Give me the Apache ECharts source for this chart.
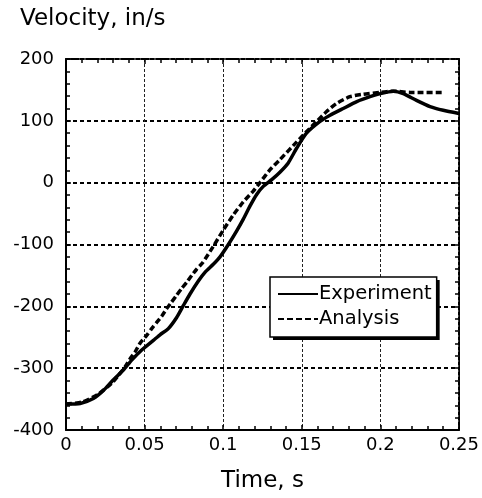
<!DOCTYPE html>
<html>
<head>
<meta charset="utf-8">
<script src="https://cdn.jsdelivr.net/npm/echarts@6/dist/echarts.min.js"></script>
<style>
  html, body { margin: 0; padding: 0; background: #fff; }
  #chart { width: 482px; height: 498px; }
</style>
</head>
<body>
<div id="chart"></div>
<script>
// measured experiment curve
const expTime = [0, 0.009, 0.0174, 0.0238, 0.030, 0.0365, 0.0418, 0.048, 0.0556, 0.0598, 0.0651,
  0.0704, 0.0746, 0.0789, 0.0842, 0.0884, 0.0937, 0.098, 0.1033, 0.1086, 0.1128, 0.117, 0.1213,
  0.1255, 0.1309, 0.1361, 0.1414, 0.1468, 0.153, 0.1616, 0.168, 0.1764, 0.185, 0.1934, 0.2,
  0.2082, 0.2146, 0.223, 0.2316, 0.24, 0.25];
const expVel = [-358, -357, -349, -336, -319, -303, -287, -271, -255, -246, -236,
  -218, -199, -180, -159, -145, -132, -120, -100, -78, -59, -38, -19,
  -6, 5, 17, 32, 56, 80, 99, 109, 120, 131, 139, 144,
  148, 144, 133, 123, 117, 112];

// analysis curve
const anaTime = [0, 0.01, 0.02, 0.03, 0.0375, 0.0407, 0.0439, 0.047, 0.0513, 0.0545, 0.0577,
  0.0609, 0.064, 0.0672, 0.0704, 0.0736, 0.0768, 0.08, 0.0831, 0.0868, 0.0937, 0.1, 0.1065,
  0.1128, 0.119, 0.1234, 0.1298, 0.136, 0.1468, 0.154, 0.1595, 0.1658, 0.172, 0.1806, 0.189,
  0.2, 0.208, 0.219, 0.239];
const anaVel = [-358, -355, -343, -322, -298, -285, -274, -260, -247, -236, -226,
  -216, -204, -193, -182, -171, -161, -150, -140, -130, -103, -77, -52,
  -31, -14, 0, 21, 37, 66, 85, 99, 115, 128, 139, 143,
  146, 148, 146, 146];

const seriesNames = ['Experiment', 'Analysis'];

const font = 'DejaVu Sans, sans-serif';
const chart = echarts.init(document.getElementById('chart'));

const tickFmt = v => String(Math.round(v * 100) / 100);

const xBase = { type: 'value', min: 0, max: 0.25, interval: 0.05 };
const yBase = { type: 'value', min: -400, max: 200, interval: 100 };
const tickStyle = { color: '#000', width: 1.5 };

// shared legend layout; the first copy is an all-black box offset by 3px that acts as drop shadow
const legendBase = {
  data: seriesNames,
  orient: 'vertical',
  padding: [7, 5, 8, 7],
  itemWidth: 40, itemHeight: 14, itemGap: 5,
  borderRadius: 0,
  itemStyle: { opacity: 0 },
  selectedMode: false
};

chart.setOption({
  animation: false,
  title: {
    text: 'Velocity, in/s',
    left: 15, top: 3,
    textStyle: { fontFamily: font, fontSize: 23, fontWeight: 'normal', color: '#000' }
  },
  grid: { left: 66, right: 23, top: 59, bottom: 66 },
  legend: [
    Object.assign({}, legendBase, {
      left: 273, top: 280, z: 5,
      backgroundColor: '#000', borderWidth: 0,
      lineStyle: { width: 2, color: '#000' },
      textStyle: { fontFamily: font, fontSize: 19.5, color: '#000', padding: [0, 0, 0, -4] }
    }),
    Object.assign({}, legendBase, {
      left: 270, top: 277, z: 6,
      backgroundColor: '#fff', borderColor: '#000', borderWidth: 1.5,
      lineStyle: { width: 2 },
      textStyle: { fontFamily: font, fontSize: 19.5, color: '#000', padding: [0, 0, 0, -4] }
    })
  ],
  xAxis: [
    Object.assign({}, xBase, {
      position: 'bottom',
      name: 'Time, s', nameLocation: 'middle', nameGap: 40,
      nameTextStyle: { fontFamily: font, fontSize: 23, color: '#000' },
      axisLine: { onZero: false, lineStyle: { color: '#000', width: 2 } },
      axisTick: { inside: true, length: 5, lineStyle: tickStyle },
      minorTick: { show: true, splitNumber: 5, length: 4, lineStyle: tickStyle },
      axisLabel: { fontFamily: font, fontSize: 18, color: '#000', margin: 6, formatter: tickFmt },
      splitLine: { show: true, lineStyle: { color: '#222', width: 1, type: [3, 2] } }
    }),
    Object.assign({}, xBase, {
      position: 'top',
      axisLine: { onZero: false, lineStyle: { color: '#000', width: 2, type: [3, 2] } },
      axisTick: { inside: true, length: 5, lineStyle: tickStyle },
      minorTick: { show: true, splitNumber: 5, length: 4, lineStyle: tickStyle },
      axisLabel: { show: false },
      splitLine: { show: false }
    })
  ],
  yAxis: [
    Object.assign({}, yBase, {
      position: 'left',
      axisLine: { show: true, onZero: false, lineStyle: { color: '#000', width: 2 } },
      axisTick: { show: true, inside: true, length: 5, lineStyle: tickStyle },
      minorTick: { show: true, splitNumber: 5, length: 4, lineStyle: tickStyle },
      axisLabel: { fontFamily: font, fontSize: 18, color: '#000', margin: 12, padding: [0, 0, 6, 0] },
      splitLine: { show: true, lineStyle: { color: '#000', width: 2, type: [4, 3] } }
    }),
    Object.assign({}, yBase, {
      position: 'right',
      axisLine: { show: true, onZero: false, lineStyle: { color: '#000', width: 2, type: [3, 2] } },
      axisTick: { show: true, inside: true, length: 5, lineStyle: tickStyle },
      minorTick: { show: true, splitNumber: 5, length: 4, lineStyle: tickStyle },
      axisLabel: { show: false },
      splitLine: { show: false }
    })
  ],
  series: [
    {
      name: 'Experiment',
      type: 'line',
      symbol: 'none',
      smooth: 0.2,
      data: expTime.map((t, i) => [t, expVel[i]]),
      lineStyle: { color: '#000', width: 3.5 },
      itemStyle: { color: '#000' },
      z: 3
    },
    {
      name: 'Analysis',
      type: 'line',
      symbol: 'none',
      smooth: 0.2,
      data: anaTime.map((t, i) => [t, anaVel[i]]),
      lineStyle: { color: '#000', width: 3.5, type: [6, 3] },
      itemStyle: { color: '#000' },
      z: 4
    }
  ]
});
</script>
</body>
</html>
